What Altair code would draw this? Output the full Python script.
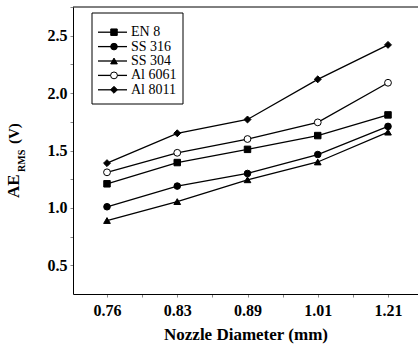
import json
import altair as alt
import pandas as pd

categories = ["0.76", "0.83", "0.89", "1.01", "1.21"]
series_names = ["EN 8", "SS 316", "SS 304", "Al 6061", "Al 8011"]
en8 = [1.21, 1.395, 1.51, 1.63, 1.81]
ss316 = [1.01, 1.19, 1.30, 1.465, 1.71]
ss304 = [0.89, 1.055, 1.245, 1.40, 1.66]
al6061 = [1.31, 1.48, 1.60, 1.745, 2.09]
al8011 = [1.39, 1.65, 1.77, 2.12, 2.42]
shapes = ["square", "circle", "triangle-up", "circle", "diamond"]
fills = ["black", "black", "black", "white", "black"]
sizes = [42, 48, 50, 48, 75]

values = [en8, ss316, ss304, al6061, al8011]
rows = []
for name, vals in zip(series_names, values):
    for i, (c, v) in enumerate(zip(categories, vals)):
        rows.append({"series": name, "idx": i, "diameter": c, "ae": v})
df = pd.DataFrame(rows)
leg_df = pd.DataFrame({"series": series_names})
one = pd.DataFrame({"k": [0]})

FONT = "Liberation Serif"
W, H = 345, 287

label_expr = ("datum.value % 1 == 0 ? " + json.dumps(categories) + "[datum.value] : ''")

xscale = alt.Scale(domain=[-0.484, 4.427], zero=False, nice=False)
yscale = alt.Scale(domain=[0.25, 2.75], zero=False, nice=False)
shape_scale = alt.Scale(domain=series_names, range=shapes)
fill_scale = alt.Scale(domain=series_names, range=fills)
size_scale = alt.Scale(domain=series_names, range=sizes)

x_enc = alt.X("idx:Q", scale=xscale, axis=alt.Axis(
    values=[i * 0.5 for i in range(9)], labelExpr=label_expr,
    title="Nozzle Diameter (mm)", grid=False, domainColor="black",
    tickColor="#888888", tickSize=3, labelPadding=5, titlePadding=8,
    labelFont=FONT, labelFontSize=16, labelFontWeight="bold", labelColor="black",
    titleFont=FONT, titleFontSize=17, titleFontWeight="bold", titleColor="black",
    labelOverlap=False))
y_enc = alt.Y("ae:Q", scale=yscale, axis=alt.Axis(
    values=[0.5 + 0.25 * i for i in range(10)],
    labelExpr="datum.value % 0.5 == 0 ? format(datum.value, '.1f') : ''",
    title=None, grid=False, domainColor="black", tickColor="#888888", tickSize=3,
    labelPadding=3, labelFont=FONT, labelFontSize=16, labelFontWeight="bold",
    labelColor="black", labelOverlap=False))

base = alt.Chart(df)
lines = base.mark_line(color="black", strokeWidth=1.3).encode(
    x=x_enc, y=y_enc, detail="series:N")
points = base.mark_point(filled=True, stroke="black", strokeWidth=1, opacity=1).encode(
    x=x_enc, y=y_enc,
    shape=alt.Shape("series:N", scale=shape_scale, legend=None),
    fill=alt.Fill("series:N", scale=fill_scale, legend=None),
    size=alt.Size("series:N", scale=size_scale, legend=None))
main = alt.layer(lines, points)

top_border = alt.Chart(one).mark_rule(color="black", strokeWidth=1).encode(
    x=alt.value(0), x2=alt.value(W), y=alt.value(0))

leg_y = alt.Y("series:N", scale=alt.Scale(type="point", domain=series_names, range=[18, 90]), axis=None)
leg_box = alt.Chart(one).mark_rect(fill="white", stroke="black", strokeWidth=1).encode(
    x=alt.value(19), x2=alt.value(110), y=alt.value(6), y2=alt.value(97))
leg_line = alt.Chart(leg_df).mark_rule(color="black", strokeWidth=1.3).encode(
    x=alt.value(25), x2=alt.value(54), y=leg_y)
leg_pts = alt.Chart(leg_df).mark_point(filled=True, stroke="black", strokeWidth=1, opacity=1).encode(
    x=alt.value(41), y=leg_y,
    shape=alt.Shape("series:N", scale=shape_scale, legend=None),
    fill=alt.Fill("series:N", scale=fill_scale, legend=None),
    size=alt.Size("series:N", scale=size_scale, legend=None))
leg_txt = alt.Chart(leg_df).mark_text(align="left", baseline="middle", font=FONT,
                                      fontSize=14, color="black").encode(
    x=alt.value(58), y=leg_y, text="series:N")

t_ae = alt.Chart(one).mark_text(text="AE", angle=270, align="left", baseline="alphabetic",
                                font=FONT, fontSize=17, fontWeight="bold", color="black").encode(
    x=alt.value(-54), y=alt.value(191))
t_rms = alt.Chart(one).mark_text(text="RMS", angle=270, align="left", baseline="alphabetic",
                                 font=FONT, fontSize=10, fontWeight="bold", color="black").encode(
    x=alt.value(-48), y=alt.value(165))
t_v = alt.Chart(one).mark_text(text="(V)", angle=270, align="left", baseline="alphabetic",
                               font=FONT, fontSize=15, fontWeight="bold", color="black").encode(
    x=alt.value(-54), y=alt.value(137))

chart = alt.layer(main, top_border, leg_box, leg_line, leg_pts, leg_txt, t_ae, t_rms, t_v).resolve_scale(
    y="independent"
).properties(
    width=W, height=H,
    autosize=alt.AutoSizeParams(type="none"),
    padding={"left": 73, "top": 7, "right": 0, "bottom": 56},
    background="white",
).configure_view(stroke="transparent")

chart.save("out.html", embed_options={"renderer": "svg", "actions": False})
